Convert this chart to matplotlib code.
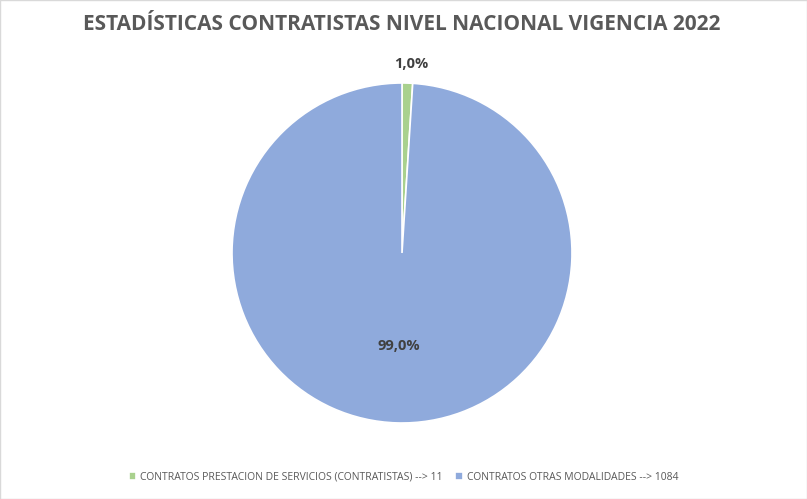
import matplotlib
matplotlib.use("Agg")
import matplotlib.pyplot as plt
import numpy as np

categories = ["CONTRATOS PRESTACION DE SERVICIOS (CONTRATISTAS) --> 11",
              "CONTRATOS OTRAS MODALIDADES --> 1084"]
values = [11, 1084]
pct_labels = ["1,0%", "99,0%"]
colors = ["#a9d18e", "#8faadc"]

fig = plt.figure(figsize=(8.07, 4.99), dpi=100)
fig.patches.append(plt.Rectangle((0, 0), 1, 1, transform=fig.transFigure,
                                 fill=False, edgecolor="#d9d9d9", lw=1))
fig.text(0.498, 0.95, "ESTADÍSTICAS CONTRATISTAS NIVEL NACIONAL VIGENCIA 2022",
         ha="center", va="center", fontsize=15, fontweight="bold",
         color="#595959", family="Open Sans")
ax = fig.add_axes([0.2875, 0.1523, 0.4213, 0.6814])
wedges, _ = ax.pie(values, colors=colors, startangle=90, counterclock=False,
                   wedgeprops=dict(edgecolor="white", linewidth=1.2))
ax.set_xlim(-1, 1); ax.set_ylim(-1, 1); ax.set_aspect("equal")
dists = [1.11, 0.55]
for w, lab, d in zip(wedges, pct_labels, dists):
    a = np.deg2rad((w.theta1 + w.theta2) / 2)
    x, y = d * np.cos(a), d * np.sin(a)
    if d > 1:
        x += 0.02
    ax.text(x, y, lab, ha="center", va="center", fontsize=10.5,
            fontweight="bold", color="#404040", family="Open Sans")
leg = fig.legend(wedges, categories, loc="center", bbox_to_anchor=(0.5, 0.044),
                 ncol=2, frameon=False, fontsize=7.5, handlelength=0.7,
                 handleheight=0.7, columnspacing=1.2, handletextpad=0.4,
                 prop={"family": "Open Sans", "size": 7.5})
for t in leg.get_texts():
    t.set_color("#595959")
fig.savefig("out.png", dpi=100)
